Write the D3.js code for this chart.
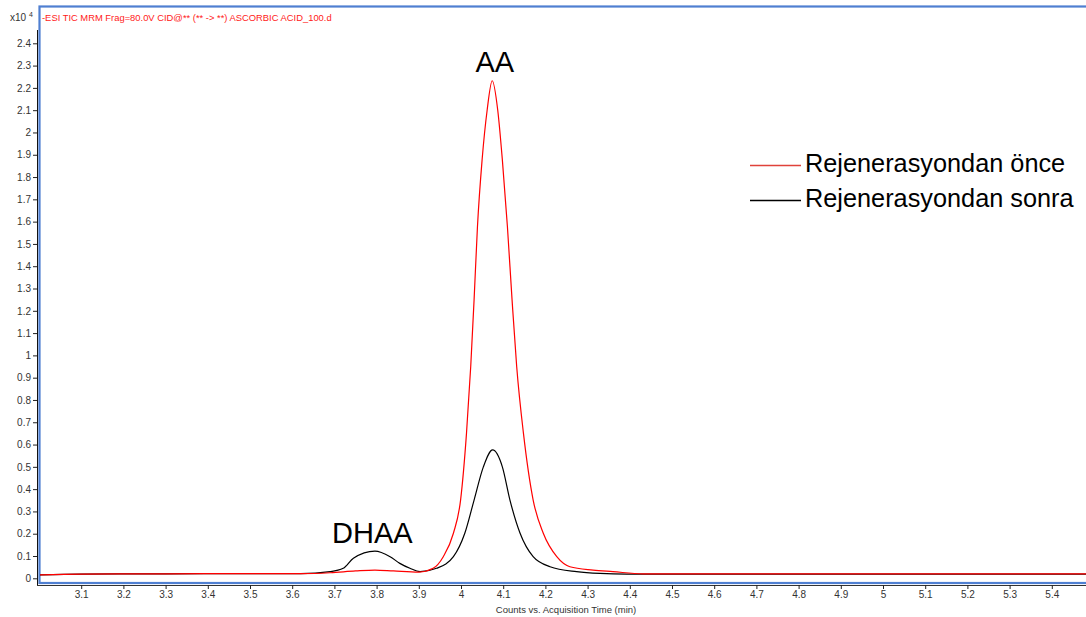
<!DOCTYPE html>
<html>
<head>
<meta charset="utf-8">
<script src="https://cdn.jsdelivr.net/npm/d3@7"></script>
<style>
  html, body { margin: 0; padding: 0; background: #fff; }
  svg { display: block; font-family: "Liberation Sans", Arial, sans-serif; }
</style>
</head>
<body>
<svg id="chart" width="1086" height="617"></svg>
<script>
// ---- data (counts x10^4 vs. acquisition time, min) ----
const titleText = "-ESI TIC MRM Frag=80.0V CID@** (** -> **) ASCORBIC ACID_100.d";
const xAxisTitle = "Counts vs. Acquisition Time (min)";
const seriesNames = ["Rejenerasyondan önce", "Rejenerasyondan sonra"];
const peakLabels = ["DHAA", "AA"];
const peakLabelTimes = [3.79, 4.08];
const peakLabelValues = [0.16, 2.27];

const onceTime = [3.00, 3.10, 3.30, 3.50, 3.62, 3.69, 3.75, 3.796, 3.84, 3.90, 3.934, 3.958, 3.982, 3.999, 4.013, 4.023, 4.031, 4.039, 4.050, 4.062, 4.074, 4.087, 4.098, 4.110, 4.121, 4.132, 4.148, 4.171, 4.195, 4.227, 4.258, 4.313, 4.360, 4.431, 4.60, 4.80, 5.00, 5.20, 5.485];
const onceValues = [0.015, 0.019, 0.020, 0.021, 0.021, 0.025, 0.033, 0.037, 0.033, 0.028, 0.045, 0.097, 0.202, 0.351, 0.650, 0.949, 1.249, 1.577, 1.877, 2.101, 2.232, 2.101, 1.877, 1.577, 1.249, 0.949, 0.650, 0.351, 0.202, 0.097, 0.052, 0.037, 0.030, 0.020, 0.020, 0.020, 0.020, 0.020, 0.020];

const sonraTime = [3.00, 3.10, 3.30, 3.50, 3.62, 3.69, 3.721, 3.745, 3.796, 3.832, 3.855, 3.879, 3.903, 3.942, 3.982, 4.009, 4.031, 4.053, 4.075, 4.098, 4.116, 4.140, 4.171, 4.211, 4.274, 4.329, 4.393, 4.60, 4.80, 5.00, 5.20, 5.485];
const sonraValues = [0.015, 0.019, 0.020, 0.021, 0.021, 0.030, 0.045, 0.090, 0.122, 0.097, 0.067, 0.045, 0.030, 0.045, 0.097, 0.202, 0.351, 0.500, 0.576, 0.500, 0.351, 0.202, 0.097, 0.052, 0.030, 0.022, 0.019, 0.019, 0.019, 0.019, 0.019, 0.019];

const yTickValues = d3.range(0, 25).map(i => i / 10);
const xTickValues = d3.range(31, 55).map(i => i / 10);

// ---- layout ----
const svg = d3.select("#chart");
const x = d3.scaleLinear().domain([3.0, 4.0]).range([39, 461]);
const y = d3.scaleLinear().domain([0, 2.4]).range([578.3, 43.3]);
const fmt = v => String(+v.toFixed(1));

// plot frame (blue)
svg.append("rect")
  .attr("x", 39.5).attr("y", 6.5)
  .attr("width", 1100).attr("height", 576.5)
  .attr("fill", "none").attr("stroke", "#4f7fd1").attr("stroke-width", 2.2);

// clip
svg.append("clipPath").attr("id", "clip")
  .append("rect").attr("x", 40).attr("y", 8).attr("width", 1060).attr("height", 574);

// y axis
const yAxis = svg.append("g").attr("transform", "translate(37,0)")
  .call(d3.axisLeft(y).tickValues(yTickValues).tickFormat(fmt).tickSize(4).tickPadding(2));
yAxis.select(".domain").attr("d", "M0.5,30V585.5").attr("stroke", "#111");
yAxis.selectAll(".tick line").attr("stroke", "#222");
yAxis.selectAll(".tick text").attr("font-size", 10).attr("fill", "#333")
  .attr("font-family", "Liberation Sans, Arial, sans-serif");

// x axis
const xAxis = svg.append("g").attr("transform", "translate(0,585)")
  .call(d3.axisBottom(x).tickValues(xTickValues).tickFormat(fmt).tickSize(4).tickPadding(2));
xAxis.select(".domain").attr("d", "M37,0.5H1086").attr("stroke", "#333");
xAxis.selectAll(".tick line").attr("stroke", "#222");
xAxis.selectAll(".tick text").attr("font-size", 10).attr("fill", "#333")
  .attr("font-family", "Liberation Sans, Arial, sans-serif");

// x axis title
svg.append("text").attr("x", 566).attr("y", 612.5)
  .attr("text-anchor", "middle").attr("font-size", 9.5).attr("fill", "#333")
  .text(xAxisTitle);

// multiplier label
const mult = svg.append("text").attr("x", 10).attr("y", 21).attr("font-size", 10).attr("fill", "#333");
mult.append("tspan").text("x10 ");
mult.append("tspan").attr("font-size", 7).attr("dy", -4).text("4");

// title
svg.append("text").attr("x", 42).attr("y", 21)
  .attr("font-size", 9.4).attr("fill", "#ff1a1a").text(titleText);

// lines
const line = d3.line().x(d => x(d[0])).y(d => y(d[1])).curve(d3.curveMonotoneX);
const g = svg.append("g").attr("clip-path", "url(#clip)");
g.append("path")
  .datum(sonraTime.map((t, i) => [t, sonraValues[i]]))
  .attr("d", line).attr("fill", "none").attr("stroke", "#000").attr("stroke-width", 1.2);
g.append("path")
  .datum(onceTime.map((t, i) => [t, onceValues[i]]))
  .attr("d", line).attr("fill", "none").attr("stroke", "#ff0000").attr("stroke-width", 1.2);

// peak labels
peakLabels.forEach((lab, i) => {
  svg.append("text")
    .attr("x", x(peakLabelTimes[i])).attr("y", y(peakLabelValues[i]))
    .attr("text-anchor", "middle").attr("font-size", 29).attr("fill", "#000")
    .text(lab);
});

// legend
const legendColors = ["#e0423a", "#000"];
seriesNames.forEach((name, i) => {
  const ly = 165.5 + i * 35;
  svg.append("line").attr("x1", 750).attr("x2", 801).attr("y1", ly).attr("y2", ly)
    .attr("stroke", legendColors[i]).attr("stroke-width", 1.5);
  svg.append("text").attr("x", 805).attr("y", ly + 6.5)
    .attr("font-size", 25.3).attr("fill", "#000").text(name);
});
</script>
</body>
</html>
